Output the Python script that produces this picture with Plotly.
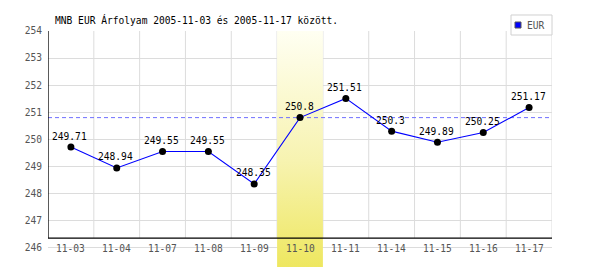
import plotly.graph_objects as go

title_text = "MNB EUR Árfolyam 2005-11-03 és 2005-11-17 között."
series_name = "EUR"
categories = ["11-03", "11-04", "11-07", "11-08", "11-09", "11-10",
              "11-11", "11-14", "11-15", "11-16", "11-17"]
values = [249.71, 248.94, 249.55, 249.55, 248.35, 250.8,
          251.51, 250.3, 249.89, 250.25, 251.17]
value_labels = ["249.71", "248.94", "249.55", "249.55", "248.35", "250.8",
                "251.51", "250.3", "249.89", "250.25", "251.17"]
highlight_index = 5
reference_value = 250.8
y_ticks = [246, 247, 248, 249, 250, 251, 252, 253, 254]

FONT = "DejaVu Sans Mono"
FS = 9.6
GRID = "#dcdcdc"
xs = list(range(len(categories)))
y_min, y_max = 245.28, 254.0
axis_y = 246.35
x_lo, x_hi = -0.5, len(categories) - 0.5

fig = go.Figure()

# highlighted day band with vertical gradient
hx0, hx1 = highlight_index - 0.5, highlight_index + 0.5
fig.add_trace(go.Scatter(
    x=[hx0, hx1, hx1, hx0, hx0], y=[y_min, y_min, y_max, y_max, y_min],
    mode="lines", line=dict(width=0), fill="toself",
    fillgradient=dict(type="vertical",
                      colorscale=[[0, "#eee760"], [0.45, "#f7f3b0"], [1, "#fffff2"]]),
    hoverinfo="skip", showlegend=False))

# bottom axis line
fig.add_trace(go.Scatter(x=[x_lo, x_hi], y=[axis_y, axis_y], mode="lines",
                         line=dict(color="black", width=1.3), hoverinfo="skip",
                         showlegend=False))
# reference dashed line
fig.add_trace(go.Scatter(x=[x_lo, x_hi], y=[reference_value, reference_value], mode="lines",
                         line=dict(color="#7070ff", width=1, dash="4px,3px"),
                         hoverinfo="skip", showlegend=False))
# data line
fig.add_trace(go.Scatter(x=xs, y=values, mode="lines+markers", name=series_name,
                         line=dict(color="#0000ff", width=1.1),
                         marker=dict(color="black", size=7),
                         cliponaxis=False, showlegend=False))

shapes = []
# vertical gridlines (below traces)
for i in range(len(categories)):
    shapes.append(dict(type="line", xref="x", yref="y", x0=i + 0.5, x1=i + 0.5,
                       y0=axis_y, y1=y_ticks[-1], line=dict(color=GRID, width=1),
                       layer="below"))
# left axis line
shapes.append(dict(type="line", xref="x", yref="y", x0=x_lo, x1=x_lo,
                   y0=axis_y, y1=y_ticks[-1], line=dict(color="black", width=1.3),
                   layer="above"))
# legend box
shapes.append(dict(type="rect", xref="paper", yref="paper", x0=0.9187, x1=1.0,
                   y0=0.983, y1=1.0678, fillcolor="white",
                   line=dict(color="#d0d0d0", width=1), layer="above"))
shapes.append(dict(type="rect", xref="paper", yref="paper", x0=0.9266, x1=0.9385,
                   y0=1.0127, y1=1.0381, fillcolor="#0000ff",
                   line=dict(color="#555555", width=1), layer="above"))

annotations = []
annotations.append(dict(text=title_text, xref="paper", yref="paper", x=0.0099, y=1.0487,
                        xanchor="left", yanchor="middle", showarrow=False,
                        font=dict(family=FONT, size=FS, color="black")))
annotations.append(dict(text=series_name, xref="paper", yref="paper", x=0.9465, y=1.0254,
                        xanchor="left", yanchor="middle", showarrow=False,
                        font=dict(family=FONT, size=FS, color="#555555")))
for i, (v, t) in enumerate(zip(values, value_labels)):
    annotations.append(dict(text=t, x=i, y=v, xref="x", yref="y", showarrow=False,
                            xanchor="center", yanchor="middle", yshift=11, xshift=-1,
                            font=dict(family=FONT, size=FS, color="black")))
for i, c in enumerate(categories):
    annotations.append(dict(text=c, x=i, y=y_ticks[0], xref="x", yref="y", showarrow=False,
                            xanchor="center", yanchor="middle", yshift=-1,
                            font=dict(family=FONT, size=FS, color="#555555")))

fig.update_layout(
    width=600, height=270,
    margin=dict(l=48, r=48, t=31, b=3, pad=0),
    paper_bgcolor="white", plot_bgcolor="white",
    showlegend=False,
    xaxis=dict(range=[x_lo, x_hi], showgrid=False, zeroline=False,
               showticklabels=False, showline=False, fixedrange=True),
    yaxis=dict(range=[y_min, y_max], tickvals=y_ticks, ticktext=[str(t) for t in y_ticks],
               showgrid=True, gridcolor=GRID, gridwidth=1, zeroline=False,
               showline=False, ticks="outside", ticklen=3, tickcolor="rgba(0,0,0,0)",
               tickfont=dict(family=FONT, size=FS, color="#555555"), fixedrange=True),
    shapes=shapes,
    annotations=annotations,
)

fig.write_html("out.html")
